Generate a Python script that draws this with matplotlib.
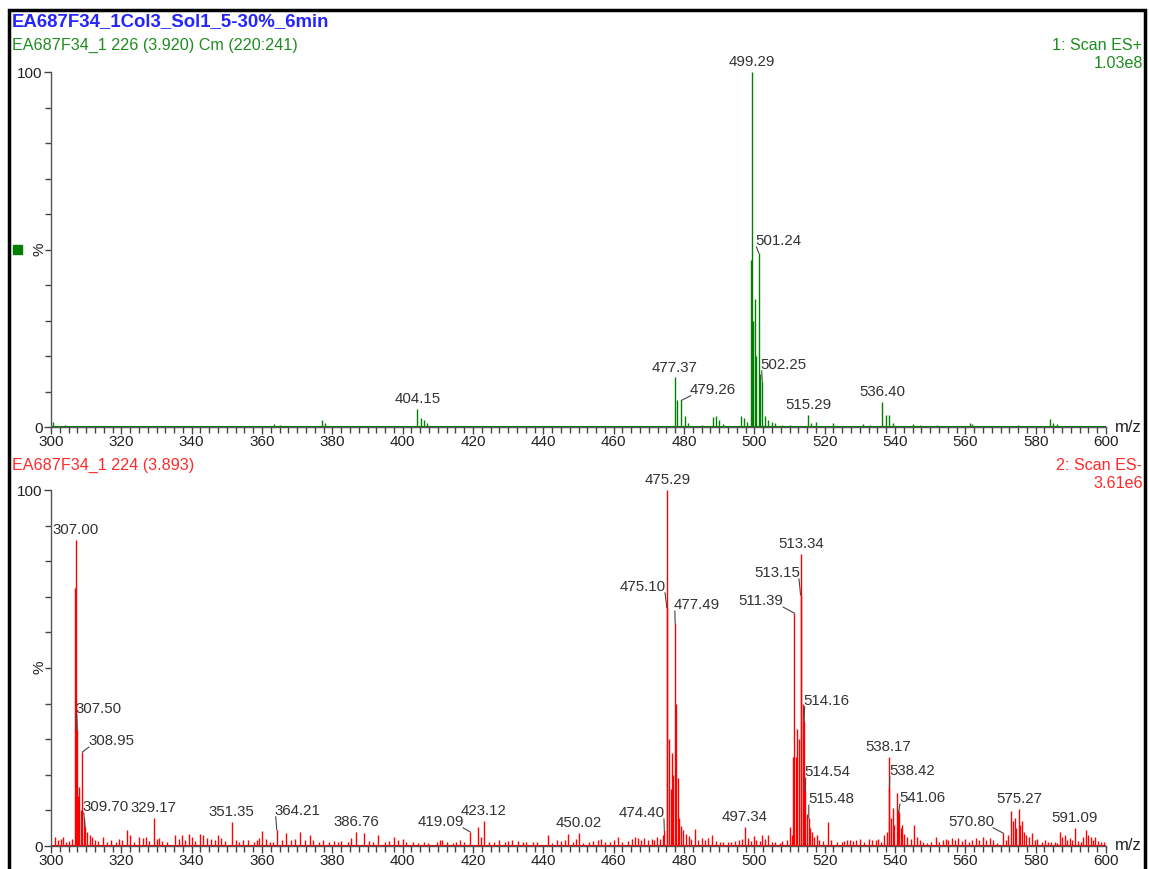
import matplotlib
matplotlib.use("Agg")
import matplotlib.pyplot as plt
from matplotlib.patches import Rectangle
from matplotlib.ticker import MultipleLocator, FixedLocator

plt.rcParams['font.family'] = ['Liberation Sans', 'DejaVu Sans']

# ---- data: top spectrum (ES+), m/z and relative intensity (%)
pos_mz = [300.5, 304.0, 318.0, 328.0, 340.0, 352.0, 363.5, 365.0, 377.2, 378.0,
          395.0, 404.15, 405.2, 406.0, 407.0, 416.0, 430.0, 445.0, 458.0, 466.0,
          472.0, 477.37, 478.1, 479.26, 480.2, 481.0, 485.0, 488.2, 489.2, 490.0,
          491.0, 496.3, 497.2, 498.0, 499.0, 499.29, 499.6, 500.1, 500.6, 501.24,
          501.7, 502.25, 503.0, 504.0, 505.0, 506.0, 508.0, 510.0, 515.29, 516.0,
          517.5, 522.5, 531.0, 533.0, 536.40, 537.4, 538.4, 539.5, 545.0, 547.0,
          552.0, 561.2, 562.0, 570.0, 575.0, 584.0, 585.0, 586.0, 595.0]
pos_int = [1.5, 0.5, 0.4, 0.4, 0.4, 0.3, 0.8, 0.6, 2.0, 1.2,
           0.4, 5.0, 2.5, 2.0, 1.0, 0.4, 0.3, 0.4, 0.3, 0.4,
           0.4, 14.0, 7.5, 7.5, 3.0, 1.0, 0.5, 2.8, 3.2, 2.0,
           0.8, 3.0, 2.5, 1.5, 47.0, 100.0, 30.0, 36.0, 20.0, 49.0,
           15.0, 13.0, 3.0, 2.0, 1.5, 1.0, 0.6, 0.5, 3.5, 1.2,
           1.5, 1.2, 0.8, 0.6, 7.0, 3.3, 3.5, 1.2, 0.8, 0.6,
           0.5, 1.2, 0.8, 0.4, 0.5, 2.3, 1.0, 0.8, 0.3]

# ---- data: bottom spectrum (ES-)
neg_mz = [301.2, 302.0, 302.8, 303.5, 304.4, 305.2, 306.0, 306.9, 307.00, 307.2,
          307.50, 307.8, 308.0, 308.5, 308.95, 309.3, 309.70, 310.3, 311.0, 311.8,
          312.6, 313.3, 314.7, 316.0, 317.2, 318.5, 319.4, 320.3, 321.5, 322.4,
          323.6, 325.0, 326.1, 327.0, 328.0, 329.17, 330.0, 330.8, 331.7, 333.0,
          335.3, 336.4, 337.3, 338.0, 339.1, 340.2, 341.0, 342.4, 343.2, 344.3,
          345.5, 346.5, 347.5, 348.4, 349.6, 351.35, 352.6, 353.5, 354.6, 356.0,
          357.6, 358.6, 359.2, 360.0, 361.0, 362.3, 363.2, 364.21, 365.6, 366.8,
          368.2, 369.3, 370.9, 372.2, 373.6, 374.6, 376.2, 377.4, 379.0, 380.6,
          381.5, 382.5, 384.4, 385.3, 386.76, 389.0, 390.4, 391.5, 393.0, 395.0,
          396.2, 397.6, 398.6, 400.0, 401.0, 402.8, 404.5, 406.0, 407.2, 409.8,
          410.5, 411.3, 412.6, 414.2, 415.3, 416.4, 417.4, 419.09, 421.3, 422.2,
          423.12, 424.5, 426.0, 427.5, 429.0, 430.0, 431.0, 432.8, 434.3, 435.2,
          437.0, 438.2, 441.3, 442.6, 444.0, 445.0, 446.2, 447.1, 448.4, 449.4,
          450.02, 451.3, 453.0, 454.0, 455.5, 456.3, 457.5, 459.0, 460.0, 461.2,
          462.4, 464.0, 465.2, 466.0, 467.0, 467.8, 468.5, 469.8, 470.8, 471.6,
          472.4, 473.2, 474.0, 474.40, 475.10, 475.29, 475.6, 476.2, 476.5, 477.0,
          477.49, 477.8, 478.31, 478.7, 479.2, 479.8, 480.5, 481.3, 482.0, 483.0,
          484.0, 485.0, 486.0, 486.8, 488.0, 489.0, 490.2, 491.2, 492.4, 493.4,
          494.4, 495.6, 496.5, 497.34, 498.2, 499.0, 499.8, 500.6, 501.6, 502.3,
          503.0, 503.8, 505.0, 506.0, 507.2, 508.0, 509.3, 510.0, 510.6, 511.0,
          511.39, 511.8, 512.2, 512.7, 513.15, 513.34, 513.7, 514.16, 514.54, 514.9,
          515.48, 515.9, 516.5, 517.0, 517.8, 518.5, 519.5, 521.0, 521.8, 523.5,
          524.8, 525.6, 526.4, 527.2, 528.0, 529.0, 530.0, 531.2, 532.6, 533.5,
          534.5, 535.2, 536.0, 537.0, 537.6, 538.17, 538.42, 538.8, 539.3, 539.8,
          540.5, 540.8, 541.06, 541.6, 542.0, 542.7, 543.4, 544.5, 545.5, 546.2,
          547.0, 548.0, 549.0, 550.2, 551.7, 552.5, 553.6, 554.4, 555.2, 556.2,
          557.0, 558.0, 559.0, 560.0, 561.0, 562.0, 563.0, 564.0, 565.0, 566.0,
          567.0, 568.0, 569.0, 570.80, 571.5, 572.2, 573.0, 573.6, 574.0, 574.5,
          575.27, 575.6, 576.0, 576.6, 577.3, 578.0, 579.0, 579.8, 580.5, 581.8,
          582.6, 583.5, 584.3, 585.5, 586.2, 587.0, 587.6, 588.4, 589.0, 589.8,
          590.4, 591.09, 592.0, 592.8, 593.6, 594.3, 594.8, 595.6, 596.3, 597.0,
          597.8, 598.6, 599.5]
neg_int = [2.5, 1.8, 2.0, 2.6, 1.2, 1.5, 2.0, 72.5, 86.0, 40.0,
           32.6, 14.0, 16.6, 10.0, 26.4, 8.0, 5.3, 4.0, 3.2, 2.5,
           1.8, 1.5, 2.4, 1.0, 1.8, 1.2, 2.0, 1.6, 4.5, 3.0,
           1.2, 2.4, 2.2, 2.6, 1.5, 7.9, 2.0, 2.2, 1.4, 1.0,
           3.2, 2.0, 3.0, 1.8, 3.4, 2.6, 1.5, 3.4, 3.2, 2.2,
           2.0, 1.8, 3.0, 2.2, 1.4, 6.7, 1.6, 1.2, 1.8, 1.6,
           1.2, 1.8, 2.2, 4.3, 2.0, 1.2, 1.0, 4.5, 1.8, 3.6,
           1.6, 2.0, 3.8, 1.8, 3.0, 1.6, 1.2, 1.6, 1.0, 1.4,
           1.2, 1.4, 1.2, 2.2, 4.0, 3.6, 1.4, 1.2, 3.2, 1.0,
           1.4, 2.6, 1.6, 2.0, 1.2, 1.0, 0.8, 1.2, 0.8, 1.0,
           1.8, 1.6, 1.0, 0.8, 1.2, 1.6, 1.2, 4.0, 5.3, 2.4,
           7.0, 1.0, 1.2, 1.6, 1.2, 1.4, 1.8, 1.4, 1.2, 1.0,
           1.0, 1.0, 3.0, 0.8, 1.6, 1.4, 1.6, 3.3, 1.2, 2.0,
           3.6, 0.8, 1.0, 1.4, 1.8, 2.0, 1.0, 1.2, 1.6, 2.6,
           1.0, 1.4, 2.0, 2.4, 2.2, 1.8, 2.2, 1.6, 2.0, 1.8,
           2.4, 2.0, 3.0, 4.5, 67.0, 100.0, 30.0, 16.0, 26.0, 20.0,
           62.6, 40.0, 19.0, 8.0, 5.5, 4.5, 3.4, 2.8, 2.0, 4.8,
           1.6, 2.2, 1.8, 2.2, 3.0, 1.4, 1.2, 1.0, 1.2, 1.0,
           1.4, 1.8, 2.0, 5.3, 2.2, 1.4, 2.8, 1.6, 1.4, 3.0,
           2.0, 3.0, 1.2, 1.0, 0.8, 1.4, 1.8, 5.3, 3.0, 25.0,
           65.4, 25.0, 33.0, 30.0, 70.5, 82.0, 40.0, 35.0, 15.7, 9.0,
           7.9, 5.0, 4.0, 2.6, 3.0, 1.6, 1.4, 6.7, 1.6, 1.0,
           1.2, 1.4, 1.6, 1.8, 1.4, 1.6, 2.0, 1.0, 2.0, 1.6,
           1.8, 2.0, 1.2, 3.0, 4.0, 25.0, 16.6, 8.0, 10.7, 6.0,
           15.0, 10.0, 9.5, 5.0, 6.0, 3.5, 2.5, 2.0, 5.8, 2.6,
           1.6, 1.2, 0.8, 1.0, 2.6, 1.2, 1.6, 2.0, 1.8, 2.2,
           1.6, 2.2, 1.4, 2.0, 1.2, 1.8, 2.2, 1.6, 2.4, 1.8,
           2.2, 1.6, 0.8, 3.6, 1.6, 3.0, 9.8, 7.0, 8.0, 5.0,
           10.4, 6.0, 7.0, 4.0, 3.0, 2.4, 3.6, 1.6, 2.0, 1.2,
           1.6, 1.0, 1.2, 1.0, 0.8, 4.0, 2.6, 3.0, 1.6, 2.2,
           1.6, 5.0, 1.4, 1.2, 2.4, 4.5, 3.2, 2.4, 1.6, 2.4,
           1.4, 1.0, 1.2]

# labelled peaks: (m/z, text x, text y) -- None means the label sits right above the peak
pos_labels = [(499.29, None, None), (501.24, 506.9, 50.4), (502.25, 508.4, 15.5),
              (477.37, None, None), (479.26, 488.2, 8.5), (515.29, None, None),
              (536.40, None, None), (404.15, None, None)]
neg_labels = [(475.29, None, None), (475.10, 468.3, 70.8), (477.49, 483.7, 65.7),
              (513.34, None, None), (513.15, 506.4, 74.7), (511.39, 501.9, 66.8),
              (514.16, 520.6, 38.8), (514.54, 520.9, 18.8), (515.48, 521.8, 11.2),
              (538.17, None, None), (538.42, 544.8, 19.1), (541.06, 547.7, 11.5),
              (575.27, None, None), (570.80, 561.6, 4.8), (591.09, None, None),
              (497.34, None, None), (474.40, 468.0, 7.3), (450.02, None, None),
              (423.12, None, None), (419.09, 410.9, 4.8), (386.76, None, None),
              (364.21, 370.2, 7.9), (351.35, None, None), (329.17, None, None),
              (309.70, 315.6, 9.0), (308.95, 317.1, 27.5), (307.50, 313.6, 36.5),
              (307.00, None, None)]

GREEN = '#008000'
RED = '#ff0000'
TXT = '#333333'

W, H = 1149, 869
fig = plt.figure(figsize=(W / 100, H / 100), dpi=100)

left = 51 / W
width = 1055 / W
ax1 = fig.add_axes([left, 1 - 427 / H, width, 355 / H])
ax2 = fig.add_axes([left, 1 - 846 / H, width, 356 / H])


def draw_panel(ax, mz, inten, labels, color):
    ax.vlines(mz, 0, inten, color=color, lw=1.0)
    ax.axhline(0.3, color=color, lw=0.8)
    ax.set_xlim(300, 600)
    ax.set_ylim(0, 100)
    for s in ['top', 'right']:
        ax.spines[s].set_visible(False)
    for s in ['left', 'bottom']:
        ax.spines[s].set_color('#555555')
        ax.spines[s].set_linewidth(1.0)
    ax.xaxis.set_major_locator(MultipleLocator(20))
    ax.xaxis.set_minor_locator(MultipleLocator(2.5))
    ax.yaxis.set_major_locator(FixedLocator([0, 100]))
    ax.yaxis.set_minor_locator(MultipleLocator(10))
    ax.tick_params(axis='both', which='major', length=5, width=1, color='#444444',
                   labelsize=11, labelcolor='#222222', pad=1)
    ax.tick_params(axis='both', which='minor', length=4, width=1, color='#444444')
    ax.set_facecolor('none')

    lookup = dict(zip(mz, inten))
    for m, tx, ty in labels:
        h = lookup[m]
        if tx is None:
            ax.annotate(f"{m:.2f}", xy=(m, h), xytext=(0, 2), textcoords='offset points',
                        ha='center', va='bottom', fontsize=10.8, color=TXT,
                        annotation_clip=False)
        else:
            ax.annotate(f"{m:.2f}", xy=(m, h), xytext=(tx, ty),
                        ha='center', va='bottom', fontsize=10.8, color=TXT,
                        annotation_clip=False)
            # leader from the near lower corner of the label to the peak
            side = -1 if tx > m else 1
            x0 = tx + side * 6.3
            ax.plot([x0, m], [ty + 0.3, h], color='#444444', lw=0.8, clip_on=False)


draw_panel(ax1, pos_mz, pos_int, pos_labels, GREEN)
draw_panel(ax2, neg_mz, neg_int, neg_labels, RED)

# header texts
fig.text(12 / W, 1 - 22 / H, "EA687F34_1Col3_Sol1_5-30%_6min", color='#2424ff',
         fontsize=13.4, fontweight='bold', va='center', ha='left')
fig.text(12 / W, 1 - 45 / H, "EA687F34_1 226 (3.920) Cm (220:241)", color='#1e8c1e',
         fontsize=11.6, va='center', ha='left')
fig.text(1142 / W, 1 - 45 / H, "1: Scan ES+", color='#1e8c1e', fontsize=11.6,
         va='center', ha='right')
fig.text(1143 / W, 1 - 63 / H, "1.03e8", color='#1e8c1e', fontsize=11.6,
         va='center', ha='right')
fig.text(12 / W, 1 - 465 / H, "EA687F34_1 224 (3.893)", color='#ff2a2a',
         fontsize=11.6, va='center', ha='left')
fig.text(1142 / W, 1 - 465 / H, "2: Scan ES-", color='#ff2a2a', fontsize=11.6,
         va='center', ha='right')
fig.text(1143 / W, 1 - 483 / H, "3.61e6", color='#ff2a2a', fontsize=11.6,
         va='center', ha='right')

# axis captions
for yc in (249, 667):
    fig.text(40 / W, 1 - yc / H, "%", rotation=90, fontsize=11, color='#222222',
             va='center', ha='center')
for yc in (428, 846):
    fig.text(1115 / W, 1 - yc / H, "m/z", fontsize=12, color='#222222',
             va='center', ha='left')

# green marker square on the top panel
fig.add_artist(Rectangle((13 / W, 1 - 254 / H), 9 / W, 9 / H, color=GREEN,
                         transform=fig.transFigure))

# outer frame
fig.add_artist(Rectangle((9 / W, -0.05), 1136 / W, 1 - 10 / H + 0.05, fill=False,
                         lw=2.5, edgecolor='black', transform=fig.transFigure))

fig.savefig("out.png", dpi=100)
